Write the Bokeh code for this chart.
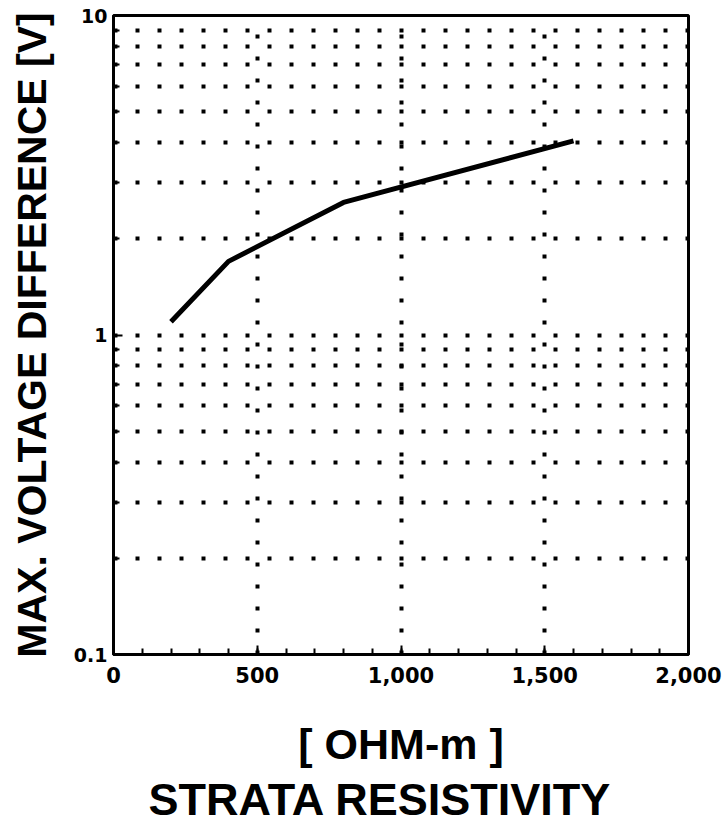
from bokeh.plotting import figure
from bokeh.models import Range1d, FixedTicker, Title
from bokeh.embed import file_html
from bokeh.resources import INLINE

# Data
resistivity = [200, 400, 800, 1600]          # OHM-m
voltage_diff = [1.10, 1.70, 2.60, 4.05]       # V

x_ticks = [0, 500, 1000, 1500, 2000]
x_tick_labels = ["0", "500", "1,000", "1,500", "2,000"]
x_minor = list(range(0, 2001, 100))
x_grid = [500, 1000, 1500]
y_ticks = [0.1, 1, 10]
y_tick_labels = ["0.1", "1", "10"]
y_minor = [0.2, 0.3, 0.4, 0.5, 0.6, 0.7, 0.8, 0.9, 2, 3, 4, 5, 6, 7, 8, 9]
y_grid = [0.2, 0.3, 0.4, 0.5, 0.6, 0.7, 0.8, 0.9, 1, 2, 3, 4, 5, 6, 7, 8, 9]

p = figure(width=724, height=827, output_backend="svg", toolbar_location=None,
           x_range=Range1d(0, 2000), y_range=Range1d(0.1, 10), y_axis_type="log")
p.min_border_left = 113
p.min_border_right = 36
p.min_border_top = 15
p.min_border_bottom = 173
p.background_fill_color = "white"
p.border_fill_color = "white"
p.outline_line_color = "black"
p.outline_line_width = 3

p.line(resistivity, voltage_diff, line_color="black", line_width=5)

# axes
xa = p.xaxis[0]
xa.ticker = FixedTicker(ticks=x_ticks, minor_ticks=x_minor)
xa.major_label_overrides = {t: l for t, l in zip(x_ticks, x_tick_labels)}
ya = p.yaxis[0]
ya.ticker = FixedTicker(ticks=y_ticks, minor_ticks=y_minor)
ya.major_label_overrides = {t: l for t, l in zip(y_ticks, y_tick_labels)}

for ax in (xa, ya):
    ax.axis_line_color = "black"
    ax.axis_line_width = 3
    ax.major_tick_in = 9
    ax.major_tick_out = 0
    ax.minor_tick_in = 6
    ax.minor_tick_out = 0
    ax.major_tick_line_width = 2
    ax.minor_tick_line_width = 2
    ax.major_tick_line_color = "black"
    ax.minor_tick_line_color = "black"
    ax.major_label_text_font = "DejaVu Sans"
    ax.major_label_text_font_style = "bold"
    ax.major_label_text_font_size = "21px"
    ax.major_label_text_color = "black"
    ax.axis_label_text_font = "Liberation Sans"
    ax.axis_label_text_font_style = "bold"
    ax.axis_label_text_color = "black"

xa.major_label_standoff = 12
xa.axis_label = "[ OHM-m ]"
xa.axis_label_text_font_size = "43px"
xa.axis_label_standoff = 34
ya.major_label_standoff = 6
ya.major_label_text_font_size = "19px"
ya.axis_label = "MAX. VOLTAGE DIFFERENCE [V]"
ya.axis_label_text_font_size = "41px"
ya.axis_label_standoff = 16

p.add_layout(Title(text="STRATA RESISTIVITY", align="left", text_font="Liberation Sans",
                   text_font_style="bold", text_font_size="45px", text_color="black",
                   standoff=2, offset=35), "below")

# dotted grid
p.xgrid.ticker = FixedTicker(ticks=x_grid)
p.ygrid.ticker = FixedTicker(ticks=y_grid)
for g in (p.xgrid[0], p.ygrid[0]):
    g.grid_line_color = "black"
    g.grid_line_width = 4
    g.grid_line_dash = "4 18"
    g.grid_line_alpha = 1.0

open("out.html", "w").write(file_html(p, INLINE))
